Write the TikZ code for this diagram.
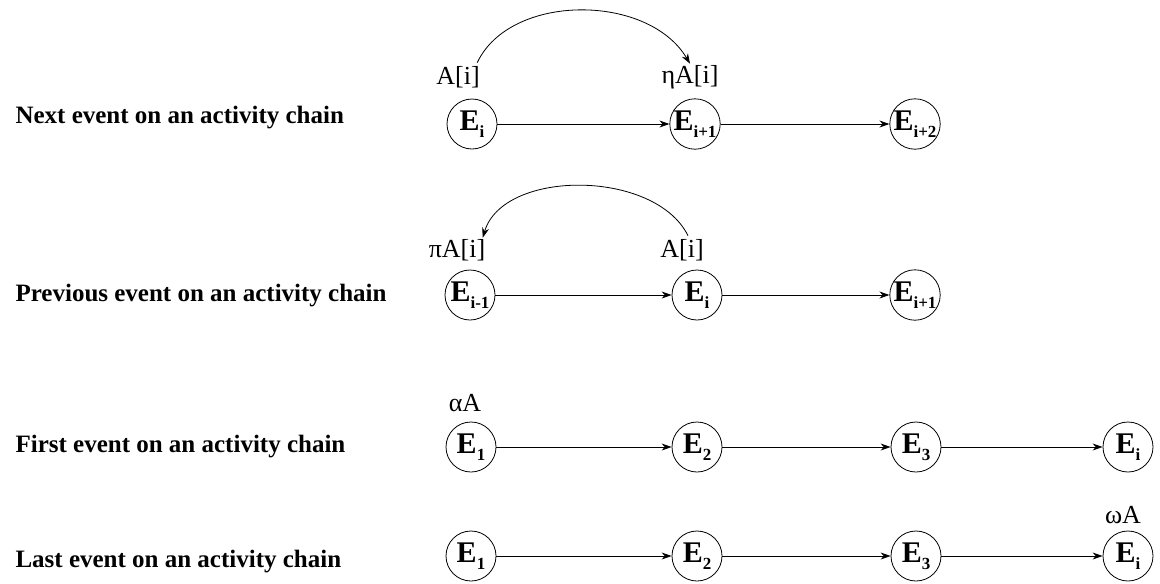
\documentclass[tikz,border=0pt]{standalone}
\usepackage{fontspec}
\setmainfont{Liberation Serif}
\usetikzlibrary{arrows.meta}
\tikzset{
  event/.style={circle,draw,line width=.8pt,minimum size=50pt,inner sep=0pt,
    font=\fontsize{30}{30}\selectfont\bfseries},
  title/.style={anchor=west,font=\fontsize{25}{28}\selectfont\bfseries},
  tag/.style={font=\fontsize{26}{28}\selectfont},
  link/.style={line width=.8pt,-{Stealth[length=10pt,width=7pt]}}
}
\newcommand{\ev}[1]{E\raisebox{-7pt}{\fontsize{17}{17}\selectfont #1}}
\begin{document}
\begin{tikzpicture}[x=1pt,y=-1pt]
  \useasboundingbox (0,0) rectangle (1160,584);
  \node[title] (t1) at (12,118) {Next event on an activity chain};
  \node[title] (t2) at (12,296) {Previous event on an activity chain};
  \node[title] (t3) at (12,447) {First event on an activity chain};
  \node[title] (t4) at (12,562) {Last event on an activity chain};
  \node[event] (e11) at (472,124) {\ev{i}};
  \node[event] (e12) at (695,124) {\ev{i+1}};
  \node[event] (e13) at (915,124) {\ev{i+2}};
  \node[tag] (l11) at (458,77) {A[i]};
  \node[tag] (l12) at (690,77) {ηA[i]};
  \node[event] (e21) at (470,295) {\ev{i-1}};
  \node[event] (e22) at (697,295) {\ev{i}};
  \node[event] (e23) at (915,295) {\ev{i+1}};
  \node[tag] (l21) at (457,250) {πA[i]};
  \node[tag] (l22) at (682,250) {A[i]};
  \node[event] (e31) at (471,447) {\ev{1}};
  \node[event] (e32) at (697,447) {\ev{2}};
  \node[event] (e33) at (916,447) {\ev{3}};
  \node[event] (e34) at (1128,447) {\ev{i}};
  \node[tag] (l31) at (465,403) {αA};
  \node[event] (e41) at (471,556) {\ev{1}};
  \node[event] (e42) at (697,556) {\ev{2}};
  \node[event] (e43) at (916,556) {\ev{3}};
  \node[event] (e44) at (1128,556) {\ev{i}};
  \node[tag] (l41) at (1123,515) {ωA};
  \draw[link] (e11) -- (e12);
  \draw[link] (e12) -- (e13);
  \draw[link] (e21) -- (e22);
  \draw[link] (e22) -- (e23);
  \foreach \r in {3,4}{
    \draw[link] (e\r1) -- (e\r2);
    \draw[link] (e\r2) -- (e\r3);
    \draw[link] (e\r3) -- (e\r4);
  }
  \draw[link] ([xshift=-6pt]l11.north east) .. controls (510,-7) and (648,-7) .. ([yshift=-2pt]l12.north);
  \draw[link] ([xshift=6pt]l22.north) .. controls (655,169) and (503,169) .. ([xshift=-6pt,yshift=-2pt]l21.north east);
\end{tikzpicture}
\end{document}
